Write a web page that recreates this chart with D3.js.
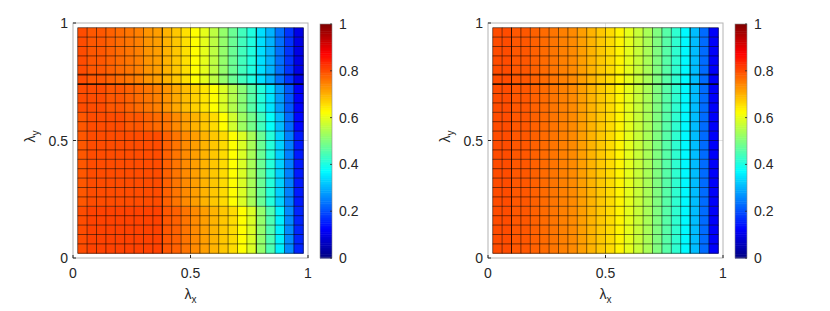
<!DOCTYPE html>
<html>
<head>
<meta charset="utf-8">
<script src="https://cdn.jsdelivr.net/npm/d3@7"></script>
<style>
  body { margin: 0; background: #fff; }
  svg { display: block; font-family: "Liberation Sans", Arial, sans-serif; }
</style>
</head>
<body>
<svg id="chart" width="830" height="311"></svg>
<script>
// cell centres along lambda_x and lambda_y (24 x 24 mesh)
const lambdaGrid = [0.04, 0.08, 0.12, 0.16, 0.20, 0.24, 0.28, 0.32, 0.36, 0.40, 0.44, 0.48,
                    0.52, 0.56, 0.60, 0.64, 0.68, 0.72, 0.76, 0.80, 0.84, 0.88, 0.92, 0.96];
const cellSize = 0.04;

// left panel: column profiles, one per group of rows
const profileTop = [0.80, 0.79, 0.79, 0.78, 0.77, 0.76, 0.75, 0.73, 0.72, 0.70, 0.68, 0.655,
                    0.625, 0.60, 0.56, 0.52, 0.48, 0.44, 0.405, 0.345, 0.30, 0.235, 0.175, 0.10];
const profileUpper = [0.80, 0.80, 0.80, 0.79, 0.79, 0.78, 0.77, 0.76, 0.75, 0.73, 0.71, 0.69,
                      0.67, 0.65, 0.625, 0.59, 0.55, 0.51, 0.46, 0.41, 0.35, 0.28, 0.21, 0.12];
const profileUpperMid = [0.79, 0.80, 0.80, 0.80, 0.80, 0.79, 0.79, 0.78, 0.77, 0.76, 0.74, 0.72,
                         0.70, 0.68, 0.66, 0.625, 0.58, 0.53, 0.49, 0.44, 0.38, 0.31, 0.23, 0.13];
const profileMid = [0.79, 0.80, 0.80, 0.80, 0.80, 0.80, 0.80, 0.80, 0.80, 0.78, 0.76, 0.74,
                    0.72, 0.70, 0.68, 0.66, 0.625, 0.59, 0.54, 0.48, 0.41, 0.33, 0.25, 0.15];
const profileBottom = [0.80, 0.81, 0.81, 0.81, 0.81, 0.81, 0.81, 0.81, 0.81, 0.79, 0.78, 0.76,
                       0.74, 0.72, 0.70, 0.68, 0.66, 0.625, 0.59, 0.52, 0.45, 0.36, 0.26, 0.16];
const profilesLeft = [profileTop, profileUpper, profileUpperMid, profileMid, profileBottom];
// which profile each row uses, bottom row first
const rowProfileLeft = [4, 4, 4, 4, 4, 3, 3, 3, 3, 3, 3, 3, 3, 2, 2, 1, 1, 1, 0, 0, 0, 0, 0, 0];

// right panel: same profile on every row
const profileRight = [0.80, 0.80, 0.79, 0.79, 0.78, 0.77, 0.76, 0.75, 0.74, 0.72, 0.70, 0.68,
                      0.66, 0.635, 0.60, 0.57, 0.54, 0.50, 0.46, 0.42, 0.37, 0.31, 0.23, 0.12];

// mesh lines that show darker in the picture
const darkLinesLeft = { x: [0.38, 0.78], y: [0.74, 0.78] };
const darkLinesRight = { x: [0.10, 0.86], y: [0.74, 0.78] };

const axisTicks = [0, 0.5, 1];
const axisTickLabels = ['0', '0.5', '1'];
const colorbarTicks = [0, 0.2, 0.4, 0.6, 0.8, 1];
const colorbarTickLabels = ['0', '0.2', '0.4', '0.6', '0.8', '1'];

const svg = d3.select('#chart');
const textColor = '#262626';

/* jet colormap */
const jet = d3.scaleLinear()
    .domain([0, 0.125, 0.375, 0.625, 0.875, 1])
    .range(['#000080', '#0000ff', '#00ffff', '#ffff00', '#ff0000', '#800000'])
    .clamp(true);

const leftMatrix = rowProfileLeft.map(p => profilesLeft[p]);
const rightMatrix = lambdaGrid.map(() => profileRight);

drawPanel(73, 320, leftMatrix, darkLinesLeft, 0.8);
drawPanel(488, 735, rightMatrix, darkLinesRight, 0.68);

function drawPanel(left, cbLeft, matrix, darkLines, darkX) {
    const top = 23, bottom = 258, size = 235;
    const x = d3.scaleLinear().domain([0, 1]).range([left, left + size]);
    const y = d3.scaleLinear().domain([0, 1]).range([bottom, top]);
    const g = svg.append('g');

    /* grid lines under the surface */
    g.selectAll('line.gx').data([0.5]).join('line')
        .attr('x1', d => x(d)).attr('x2', d => x(d))
        .attr('y1', top).attr('y2', bottom)
        .attr('stroke', '#e2e2e2');
    g.selectAll('line.gy').data([0.5]).join('line')
        .attr('y1', d => y(d)).attr('y2', d => y(d))
        .attr('x1', left).attr('x2', left + size)
        .attr('stroke', '#e2e2e2');

    /* cells */
    const cells = [];
    matrix.forEach((row, i) => row.forEach((v, j) => {
        cells.push({ cx: lambdaGrid[j], cy: lambdaGrid[i], v: v });
    }));
    const cw = x(cellSize) - x(0);
    g.selectAll('rect.cell').data(cells).join('rect')
        .attr('class', 'cell')
        .attr('x', d => x(d.cx - cellSize / 2))
        .attr('y', d => y(d.cy + cellSize / 2))
        .attr('width', cw + 0.4)
        .attr('height', cw + 0.4)
        .attr('fill', d => jet(d.v));

    /* mesh edges */
    const edges = lambdaGrid.map(c => c - cellSize / 2).concat([lambdaGrid[lambdaGrid.length - 1] + cellSize / 2]);
    const lo = edges[0], hi = edges[edges.length - 1];
    g.selectAll('line.ex').data(edges).join('line')
        .attr('x1', d => x(d)).attr('x2', d => x(d))
        .attr('y1', y(lo)).attr('y2', y(hi))
        .attr('stroke', '#000').attr('stroke-opacity', 0.58).attr('stroke-width', 0.9);
    g.selectAll('line.ey').data(edges).join('line')
        .attr('y1', d => y(d)).attr('y2', d => y(d))
        .attr('x1', x(lo)).attr('x2', x(hi))
        .attr('stroke', '#000').attr('stroke-opacity', 0.58).attr('stroke-width', 0.9);

    /* darker mesh lines */
    g.selectAll('line.dx').data(darkLines.x).join('line')
        .attr('x1', d => x(d)).attr('x2', d => x(d))
        .attr('y1', y(lo)).attr('y2', y(hi))
        .attr('stroke', '#000').attr('stroke-opacity', darkX).attr('stroke-width', 0.9);
    g.selectAll('line.dy').data(darkLines.y).join('line')
        .attr('y1', d => y(d)).attr('y2', d => y(d))
        .attr('x1', x(lo)).attr('x2', x(hi))
        .attr('stroke', '#000')
        .attr('stroke-opacity', (d, i) => i === 0 ? 1 : 0.35)
        .attr('stroke-width', (d, i) => i === 0 ? 1.2 : 2.2);

    /* box */
    g.append('rect')
        .attr('x', left).attr('y', top)
        .attr('width', size).attr('height', size)
        .attr('fill', 'none').attr('stroke', '#b4b4b4');

    /* ticks */
    g.selectAll('line.tx').data(axisTicks).join('line')
        .attr('x1', d => x(d)).attr('x2', d => x(d))
        .attr('y1', bottom).attr('y2', bottom - 3)
        .attr('stroke', textColor);
    g.selectAll('line.ty').data(axisTicks).join('line')
        .attr('y1', d => y(d)).attr('y2', d => y(d))
        .attr('x1', left).attr('x2', left + 3)
        .attr('stroke', textColor);

    /* tick labels */
    g.selectAll('text.tx').data(axisTicks).join('text')
        .attr('x', d => x(d)).attr('y', bottom + 20)
        .attr('text-anchor', 'middle')
        .attr('font-size', 14).attr('fill', textColor)
        .text((d, i) => axisTickLabels[i]);
    g.selectAll('text.ty').data(axisTicks).join('text')
        .attr('x', left - 5).attr('y', d => y(d) + 5)
        .attr('text-anchor', 'end')
        .attr('font-size', 14).attr('fill', textColor)
        .text((d, i) => axisTickLabels[i]);

    /* axis labels */
    const xl = g.append('text')
        .attr('x', x(0.5)).attr('y', 299)
        .attr('text-anchor', 'middle')
        .attr('font-size', 14).attr('fill', textColor);
    xl.append('tspan').text('λ');
    xl.append('tspan').attr('font-size', 10).attr('dy', 4).text('x');

    const yl = g.append('text')
        .attr('transform', `translate(${left - 38},${y(0.5) - 4}) rotate(-90)`)
        .attr('text-anchor', 'middle')
        .attr('font-size', 14).attr('fill', textColor);
    yl.append('tspan').text('λ');
    yl.append('tspan').attr('font-size', 10).attr('dy', 4).text('y');

    /* colorbar */
    const cbW = 12;
    const cy = d3.scaleLinear().domain([0, 1]).range([bottom, top + 1]);
    const steps = d3.range(0, 1, 1 / 128);
    g.selectAll('rect.cb').data(steps).join('rect')
        .attr('x', cbLeft)
        .attr('y', d => cy(d + 1 / 128))
        .attr('width', cbW)
        .attr('height', cy(0) - cy(1 / 128) + 0.5)
        .attr('fill', d => jet(d + 1 / 256));
    g.append('rect')
        .attr('x', cbLeft).attr('y', cy(1))
        .attr('width', cbW).attr('height', cy(0) - cy(1))
        .attr('fill', 'none').attr('stroke', '#8a8a8a').attr('stroke-width', 0.6);
    g.selectAll('line.cbt').data(colorbarTicks).join('line')
        .attr('x1', cbLeft + cbW).attr('x2', cbLeft + cbW - 2)
        .attr('y1', d => cy(d)).attr('y2', d => cy(d))
        .attr('stroke', textColor).attr('stroke-width', 0.8);
    g.selectAll('text.cbt').data(colorbarTicks).join('text')
        .attr('x', cbLeft + 19).attr('y', d => cy(d) + 5)
        .attr('font-size', 14).attr('fill', textColor)
        .text((d, i) => colorbarTickLabels[i]);
}
</script>
</body>
</html>
